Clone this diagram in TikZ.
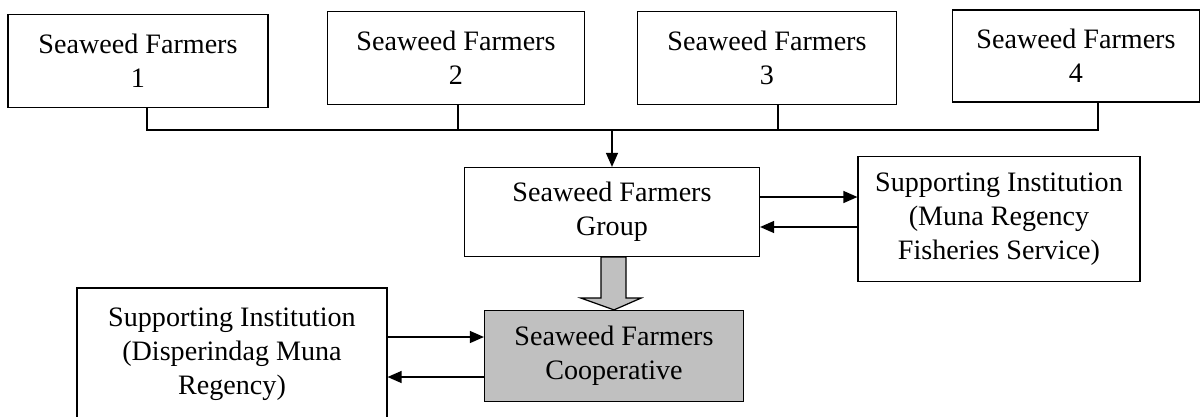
\documentclass[tikz,border=0pt]{standalone}
\usepackage{fontspec}
\setmainfont{Liberation Serif}
\usetikzlibrary{arrows.meta,calc}
\definecolor{coopgray}{RGB}{192,192,192}
\tikzset{
  >={Triangle[length=0.28cm,width=0.24cm]},
  farmbox/.style={draw, line width=0.7pt, align=center, inner sep=0pt,
    font=\fontsize{16}{19.5}\selectfont},
}
\begin{document}
\begin{tikzpicture}[x=0.02cm,y=-0.02cm]
	\useasboundingbox (0,0) rectangle (1204,416);
	% farmers
	\node[farmbox, minimum width=5.2cm, minimum height=1.86cm] (f1) at (138,61) {Seaweed Farmers\\1};
	\node[farmbox, minimum width=5.14cm, minimum height=1.86cm] (f2) at (456,58) {Seaweed Farmers\\2};
	\node[farmbox, minimum width=5.18cm, minimum height=1.86cm] (f3) at (767,58) {Seaweed Farmers\\3};
	\node[farmbox, minimum width=4.94cm, minimum height=1.84cm] (f4) at (1076,56) {Seaweed Farmers\\4};
	\node[farmbox, minimum width=5.9cm, minimum height=1.78cm] (grp) at (612,212) {Seaweed Farmers\\Group};
	\node[farmbox, minimum width=5.64cm, minimum height=2.5cm] (sup1) at (999,219) {Supporting Institution\\(Muna Regency\\Fisheries Service)};
	\node[farmbox, fill=coopgray, minimum width=5.18cm, minimum height=1.82cm] (coop) at (614,356) {Seaweed Farmers\\Cooperative};
	\node[farmbox, minimum width=6.2cm, minimum height=2.64cm] (sup2) at (232,354) {Supporting Institution\\(Disperindag Muna\\Regency)};
	% bus
	\coordinate (bus) at (612,130);
	\draw[line width=0.7pt] ([xshift=0.18cm]f1.south) |- ([xshift=0.44cm]f4.south |- bus) -- ([xshift=0.44cm]f4.south);
	\draw[line width=0.7pt] ([xshift=0.04cm]f2.south) -- ([xshift=0.04cm]f2.south |- bus);
	\draw[line width=0.7pt] ([xshift=0.22cm]f3.south) -- ([xshift=0.22cm]f3.south |- bus);
	\draw[->, line width=0.7pt] (bus) -- (grp.north);
	% group <-> fisheries
	\draw[->, line width=0.7pt] ($(grp.east)+(0,-15)$) coordinate (a1) -- (a1 -| sup1.west);
	\draw[->, line width=0.7pt] ($(sup1.west)+(0,8)$) coordinate (a2) -- (a2 -| grp.east);
	% group to cooperative
	\filldraw[fill=coopgray, line width=0.7pt] ($(grp.south)+(-11,0)$) -- ($(grp.south)+(14,0)$)
	  -- ($(grp.south)+(14,41)$) -- ($(grp.south)+(29,41)$) -- (coop.north)
	  -- ($(grp.south)+(-31,41)$) -- ($(grp.south)+(-11,41)$) -- cycle;
	% disperindag <-> cooperative
	\draw[->, line width=0.7pt] ($(sup2.east)+(0,-17)$) coordinate (b1) -- (b1 -| coop.west);
	\draw[->, line width=0.7pt] ($(coop.west)+(0,21)$) coordinate (b2) -- (b2 -| sup2.east);
\end{tikzpicture}
\end{document}
